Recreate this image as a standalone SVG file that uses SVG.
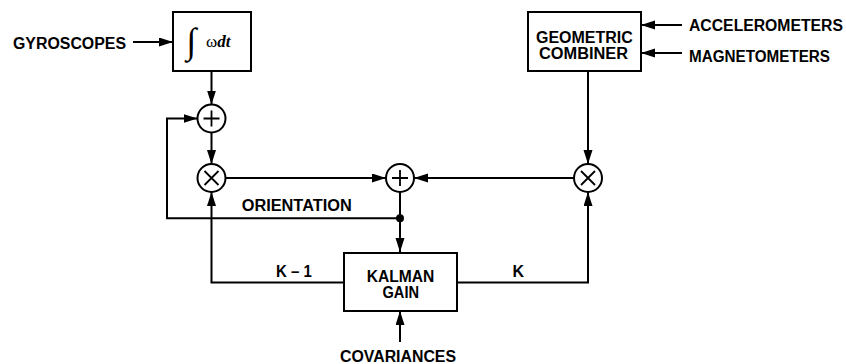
<svg xmlns="http://www.w3.org/2000/svg" width="846" height="364" viewBox="0 0 846 364">
<style>
.box{fill:#fff;stroke:#000;stroke-width:2}
.op{fill:#fff;stroke:#000;stroke-width:2}
.sym{fill:none;stroke:#000;stroke-width:1.8}
.ln{fill:none;stroke:#000;stroke-width:2}
.arr{marker-end:url(#ah)}
.t{font-family:"Liberation Sans",Arial,sans-serif;font-weight:bold;font-size:16px;fill:#000}
.s{font-family:"Liberation Serif","Times New Roman",serif;fill:#000}
</style>
<defs>
<marker id="ah" markerUnits="userSpaceOnUse" markerWidth="14" markerHeight="10" refX="14" refY="4.5" orient="auto">
<path d="M0,0 L14,4.5 L0,9 Z" fill="#000"/>
</marker>
</defs>
<rect width="846" height="364" fill="#fff"/>

<g id="connectors">
<line class="ln arr" x1="133" y1="42" x2="173" y2="42"/>
<line class="ln arr" x1="211.5" y1="71" x2="211.5" y2="104.5"/>
<line class="ln arr" x1="211.5" y1="132.5" x2="211.5" y2="164"/>
<polyline class="ln arr" points="400,218.3 167,218.3 167,118.5 197.5,118.5"/>
<line class="ln arr" x1="225.5" y1="178" x2="386" y2="178"/>
<line class="ln arr" x1="574" y1="178" x2="414" y2="178"/>
<line class="ln arr" x1="400" y1="192" x2="400" y2="252"/>
<circle cx="400" cy="218.3" r="4" fill="#000"/>
<polyline class="ln arr" points="344,282.5 211.5,282.5 211.5,192"/>
<polyline class="ln arr" points="457,282.5 588,282.5 588,192"/>
<line class="ln arr" x1="400" y1="342" x2="400" y2="311"/>
<line class="ln arr" x1="588" y1="71" x2="588" y2="164"/>
<line class="ln arr" x1="682" y1="25" x2="641" y2="25"/>
<line class="ln arr" x1="682" y1="53" x2="641" y2="53"/>
</g>

<g id="gyroscopes"><text class="t" x="13" y="48.5" textLength="113" lengthAdjust="spacingAndGlyphs">GYROSCOPES</text></g>
<g id="integrator">
<rect class="box" x="173" y="12" width="78" height="59"/>
<text class="s" x="191.5" y="53" font-size="36" text-anchor="middle">∫</text>
<text class="s" x="206" y="46.7" font-size="17">ω<tspan font-weight="bold" font-style="italic">dt</tspan></text>
</g>
<g id="sum1">
<circle class="op" cx="211.5" cy="118.5" r="14"/>
<path class="sym" d="M203.5,118.5 H219.5 M211.5,110.5 V126.5"/>
</g>
<g id="mult1">
<circle class="op" cx="211.5" cy="178" r="14"/>
<path class="sym" d="M204.5,171 L218.5,185 M218.5,171 L204.5,185"/>
</g>
<g id="sum2">
<circle class="op" cx="400" cy="178" r="14"/>
<path class="sym" d="M392,178 H408 M400,170 V186"/>
</g>
<g id="mult2">
<circle class="op" cx="588" cy="178" r="14"/>
<path class="sym" d="M581,171 L595,185 M595,171 L581,185"/>
</g>
<g id="combiner">
<rect class="box" x="528" y="12" width="113" height="59"/>
<text class="t" x="536" y="42.5" textLength="96.7" lengthAdjust="spacingAndGlyphs">GEOMETRIC</text>
<text class="t" x="539" y="58.5" textLength="89" lengthAdjust="spacingAndGlyphs">COMBINER</text>
</g>
<g id="accelerometers"><text class="t" x="689" y="30.5" textLength="154" lengthAdjust="spacingAndGlyphs">ACCELEROMETERS</text></g>
<g id="magnetometers"><text class="t" x="689" y="61.5" textLength="141" lengthAdjust="spacingAndGlyphs">MAGNETOMETERS</text></g>
<g id="kalman">
<rect class="box" x="344" y="253" width="113" height="58"/>
<text class="t" x="366.7" y="282" textLength="67.6" lengthAdjust="spacingAndGlyphs">KALMAN</text>
<text class="t" x="382.5" y="298" textLength="36.5" lengthAdjust="spacingAndGlyphs">GAIN</text>
</g>
<g id="labels">
<text class="t" x="241.7" y="211" textLength="110" lengthAdjust="spacingAndGlyphs">ORIENTATION</text>
<text class="t" x="276" y="277" textLength="35.7" lengthAdjust="spacingAndGlyphs">K – 1</text>
<text class="t" x="512.5" y="277">K</text>
</g>
<g id="covariances"><text class="t" x="340" y="361.5" textLength="116" lengthAdjust="spacingAndGlyphs">COVARIANCES</text></g>
</svg>
